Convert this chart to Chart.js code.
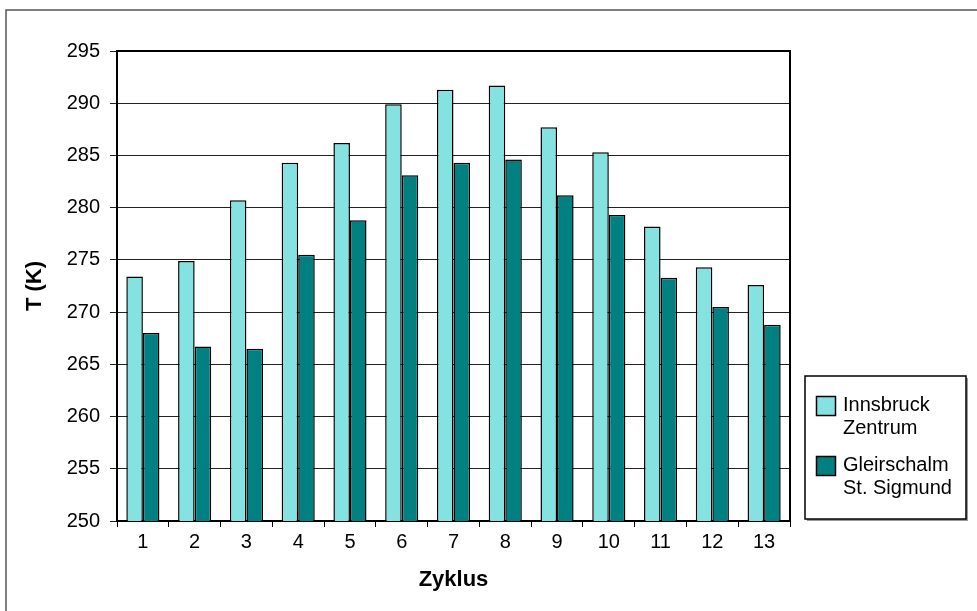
<!DOCTYPE html>
<html>
<head>
<meta charset="utf-8">
<script src="https://cdn.jsdelivr.net/npm/chart.js@4.4.1/dist/chart.umd.min.js"></script>
<style>
  body { margin: 0; background: #fff; }
  canvas { display: block; }
</style>
</head>
<body>
<canvas id="chart" width="977" height="611"></canvas>
<script>
// Data
const zyklen = ['1', '2', '3', '4', '5', '6', '7', '8', '9', '10', '11', '12', '13'];
const innsbruckZentrum = [273.4, 274.9, 280.7, 284.3, 286.2, 289.9, 291.3, 291.7, 287.7, 285.3, 278.2, 274.3, 272.6];
const gleirschalm = [268.0, 266.7, 266.5, 275.5, 278.8, 283.1, 284.3, 284.6, 281.2, 279.3, 273.3, 270.5, 268.8];
const seriesNames = [['Innsbruck', 'Zentrum'], ['Gleirschalm', 'St. Sigmund']];
const yMin = 250, yMax = 295, yStep = 5;

const FONT = '"Liberation Sans", Arial, sans-serif';

// Frame, plot border and the two-line legend box
const decorations = {
    id: 'decorations',
    afterDraw(chart) {
        const ctx = chart.ctx;
        const a = chart.chartArea;
        ctx.save();
        // outer chart frame (runs off the right and bottom edge)
        ctx.strokeStyle = '#555';
        ctx.lineWidth = 1.5;
        ctx.beginPath();
        ctx.moveTo(6, 611);
        ctx.lineTo(6, 10);
        ctx.lineTo(977, 10);
        ctx.stroke();
        // plot area top and right border
        ctx.strokeStyle = '#000';
        ctx.lineWidth = 2;
        ctx.beginPath();
        ctx.moveTo(a.left, a.top);
        ctx.lineTo(a.right, a.top);
        ctx.lineTo(a.right, a.bottom);
        ctx.stroke();

        // legend
        const box = { x: 805, y: 376, w: 161, h: 143 };
        ctx.fillStyle = '#999';
        ctx.fillRect(box.x + 2, box.y + 2, box.w, box.h);
        ctx.fillStyle = '#fff';
        ctx.fillRect(box.x, box.y, box.w, box.h);
        ctx.strokeStyle = '#000';
        ctx.lineWidth = 1.5;
        ctx.strokeRect(box.x, box.y, box.w, box.h);
        ctx.font = '20px ' + FONT;
        ctx.textBaseline = 'middle';
        ctx.textAlign = 'left';
        chart.data.datasets.forEach((ds, i) => {
            const top = 396 + i * 60;
            ctx.fillStyle = ds.backgroundColor;
            ctx.fillRect(816, top, 19, 19);
            ctx.strokeStyle = '#000';
            ctx.lineWidth = 1.5;
            ctx.strokeRect(816.5, top + 0.5, 19, 19);
            ctx.fillStyle = '#000';
            ds.label.forEach((line, j) => {
                ctx.fillText(line, 843, top + 9 + j * 23);
            });
        });
        ctx.restore();
    }
};

new Chart(document.getElementById('chart'), {
    type: 'bar',
    data: {
        labels: zyklen,
        datasets: [
            {
                label: seriesNames[0],
                data: innsbruckZentrum,
                backgroundColor: '#84E2E0',
                borderColor: '#000',
                borderWidth: 1.5
            },
            {
                label: seriesNames[1],
                data: gleirschalm,
                backgroundColor: '#008080',
                borderColor: '#000',
                borderWidth: 1.5
            }
        ]
    },
    options: {
        responsive: false,
        animation: false,
        categoryPercentage: 0.64,
        barPercentage: 1.0,
        layout: { padding: { left: 0, top: 51, right: 187, bottom: 0 } },
        plugins: {
            legend: { display: false },
            tooltip: { enabled: false }
        },
        scales: {
            x: {
                afterFit(scale) { scale.height = 90; },
                grid: {
                    offset: true,
                    drawOnChartArea: false,
                    drawTicks: true,
                    tickLength: 6,
                    color: '#000'
                },
                border: { color: '#000', width: 2 },
                ticks: { color: '#000', padding: 3, font: { family: FONT, size: 20 } },
                title: {
                    display: true,
                    text: 'Zyklus',
                    color: '#000',
                    font: { family: FONT, size: 22, weight: 'bold' },
                    padding: { top: 0, bottom: 18 }
                }
            },
            y: {
                min: yMin,
                max: yMax,
                afterFit(scale) { scale.width = 117; },
                grid: { color: '#222', lineWidth: 1, tickLength: 7 },
                border: { color: '#000', width: 2 },
                ticks: {
                    stepSize: yStep,
                    color: '#000',
                    padding: 10,
                    font: { family: FONT, size: 20 }
                },
                title: {
                    display: true,
                    text: 'T (K)',
                    color: '#000',
                    font: { family: FONT, size: 22, weight: 'bold' },
                    padding: { top: 22, bottom: 0 }
                }
            }
        }
    },
    plugins: [decorations]
});
</script>
</body>
</html>
